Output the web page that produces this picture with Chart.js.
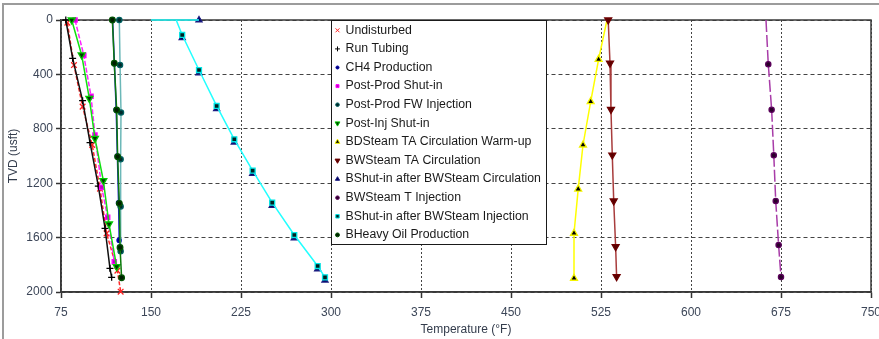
<!DOCTYPE html>
<html>
<head>
<meta charset="utf-8">
<title>Wellbore temperature profiles</title>
<script src="https://cdn.jsdelivr.net/npm/chart.js@4.4.1/dist/chart.umd.min.js"></script>
<style>
  html, body { margin: 0; padding: 0; background: #fff; }
  #wrap { position: relative; width: 879px; height: 339px; }
  #frame { position: absolute; left: 2px; top: 3px; right: 0; bottom: 0; border-left: 2px solid #9c9c9c; border-top: 2px solid #9c9c9c; pointer-events: none; }
  canvas { position: absolute; left: 0; top: 0; }
</style>
</head>
<body>
<div id="wrap"><canvas id="profile" width="879" height="339"></canvas><div id="frame"></div></div>
<script>
// temperature (deg F) vs true vertical depth (usft) for each well stage
var undisturbedT = [80.3, 85.8, 93, 101, 107.5, 113, 122, 124.7];
var undisturbedD = [20, 331, 637, 919, 1240, 1569, 1843, 1998];

var runTubingT = [79, 84.7, 93, 99.2, 106.1, 111.7, 115.8, 117.2];
var runTubingD = [0, 282, 593, 902, 1221, 1532, 1826, 1892];

var ch4ProdT = [118, 119.5, 121, 122, 123, 123.5];
var ch4ProdD = [0, 320, 660, 1000, 1345, 1620];

var postProdShutT = [86.7, 94, 100, 103.3, 108.9, 113.9, 119.4];
var postProdShutD = [0, 260, 560, 846, 1230, 1451, 1777];

var fwInjT = [123.6, 124.2, 125, 124.7, 124.7, 124.7];
var fwInjD = [0, 330, 680, 1024, 1372, 1700];

var postInjShutT = [83.9, 92.2, 98.6, 103.3, 110.3, 115, 121.4];
var postInjShutD = [0, 257, 576, 870, 1181, 1500, 1814];

var warmUpT = [530, 523, 516.4, 510, 506, 502.5, 502.5];
var warmUpD = [0, 289, 600, 919, 1243, 1568, 1899];

var taCircT = [531, 532.5, 533.3, 534.4, 535.6, 537.2, 538];
var taCircD = [0, 318, 657, 993, 1331, 1667, 1887];

var shutAfterCircT = [190, 176, 190, 204.7, 219.4, 234.7, 251, 269.4, 288.9, 295];
var shutAfterCircD = [0, 132, 390, 654, 899, 1130, 1365, 1603, 1831, 1914];

var steamInjT = [662.5, 664.4, 667.2, 669, 670.6, 673, 675];
var steamInjD = [0, 325, 660, 995, 1330, 1655, 1890];

var shutAfterInjT = [150, 190, 171, 176, 190, 204.7, 219.4, 234.7, 251, 269.4, 288.9, 295];
var shutAfterInjD = [0, 0, 0, 110, 368, 632, 877, 1108, 1343, 1581, 1809, 1892];

var heavyOilT = [117.8, 119.4, 121.4, 122.2, 123.6, 124.2, 125.5];
var heavyOilD = [0, 318, 662, 1005, 1348, 1672, 1895];

var xTicks = [75, 750, 75];   // min, max, step
var yTicks = [0, 2000, 400];

function pairs(t, d) {
  var out = [];
  for (var i = 0; i < t.length; i++) out.push({ x: t[i], y: d[i] });
  return out;
}

// marker size per point, with the first few left bare
function sizes(n, r, skip) {
  var out = [];
  for (var i = 0; i < n; i++) out.push(i < skip ? 0 : r);
  return out;
}

function series(label, t, d, line, style) {
  var ds = {
    label: label,
    data: pairs(t, d),
    showLine: true,
    clip: false,
    borderColor: line,
    borderWidth: 1.5,
    pointStyle: style.shape,
    pointRotation: style.rot || 0,
    pointRadius: style.skip ? sizes(t.length, style.r, style.skip) : style.r,
    pointBorderColor: style.edge,
    pointBackgroundColor: style.fill,
    pointBorderWidth: 1.3,
    borderDash: style.dash || []
  };
  return ds;
}

var datasets = [
  series("Undisturbed", undisturbedT, undisturbedD, "#ff2a2a", { shape: "crossRot", r: 4, edge: "#ff2020", fill: "#ff2020", dash: [4, 2] }),
  series("Run Tubing", runTubingT, runTubingD, "#111111", { shape: "cross", r: 3.5, edge: "#000", fill: "#000" }),
  series("CH4 Production", ch4ProdT, ch4ProdD, "#1c1ccc", { shape: "circle", r: 2.2, edge: "#0000b0", fill: "#000070" }),
  series("Post-Prod Shut-in", postProdShutT, postProdShutD, "#ff22ff", { shape: "rect", r: 3, edge: "#ff00ff", fill: "#c000c0", dash: [5, 2] }),
  series("Post-Prod FW Injection", fwInjT, fwInjD, "#6cb8b8", { shape: "circle", r: 2.6, edge: "#006060", fill: "#002a2a" }),
  series("Post-Inj Shut-in", postInjShutT, postInjShutD, "#10e010", { shape: "triangle", rot: 180, r: 4, edge: "#00c800", fill: "#003800" }),
  series("BDSteam TA Circulation Warm-up", warmUpT, warmUpD, "#ffff00", { shape: "triangle", r: 4, edge: "#f4f400", fill: "#000", skip: 1 }),
  series("BWSteam TA Circulation", taCircT, taCircD, "#a83c3c", { shape: "triangle", rot: 180, r: 4, edge: "#6e0000", fill: "#5a0000" }),
  series("BShut-in after BWSteam Circulation", shutAfterCircT, shutAfterCircD, "#00006e", { shape: "triangle", r: 3.5, edge: "#1a1a80", fill: "#00005a" }),
  series("BWSteam T Injection", steamInjT, steamInjD, "#a83ca8", { shape: "circle", r: 2.6, edge: "#5a005a", fill: "#2a002a", dash: [12, 3], skip: 1 }),
  series("BShut-in after BWSteam Injection", shutAfterInjT, shutAfterInjD, "#22ffff", { shape: "rect", r: 3.5, edge: "#00e6e6", fill: "#002020", skip: 3 }),
  series("BHeavy Oil Production", heavyOilT, heavyOilD, "#0c7a0c", { shape: "circle", r: 2.8, edge: "#005000", fill: "#002000" })
];
// the navy markers sit under the cyan line, only the symbols show
datasets[8].showLine = false;
// later stages drawn on top
datasets.forEach(function (ds, i) { ds.order = 20 - i; });

var plotFrame = {
  id: "plotFrame",
  beforeDatasetsDraw: function (chart) {
    var ctx = chart.ctx, area = chart.chartArea;
    ctx.save();
    ctx.setLineDash([]);
    ctx.strokeStyle = "#3a3a3a";
    ctx.lineWidth = 1.5;
    ctx.strokeRect(area.left, area.top, area.right - area.left, area.bottom - area.top);
    ctx.restore();
  }
};

var insetLegend = {
  id: "insetLegend",
  afterDraw: function (chart, args, opts) {
    var ctx = chart.ctx, area = chart.chartArea;
    ctx.save();
    ctx.setLineDash([]);
    ctx.font = opts.font;
    var sets = chart.data.datasets;
    var widest = 0;
    sets.forEach(function (ds) { widest = Math.max(widest, ctx.measureText(ds.label).width); });
    var left = Math.round(chart.scales.x.getPixelForValue(opts.atValue)) + 0.5;
    var top = Math.round(area.top) + 0.5;
    var w = Math.round(widest + opts.textOffset + 6), h = Math.round(sets.length * opts.rowHeight + 1);
    ctx.fillStyle = "#fff";
    ctx.fillRect(left, top, w, h);
    ctx.strokeStyle = "#1a1a1a";
    ctx.lineWidth = 1;
    ctx.strokeRect(left, top, w, h);

    ctx.textBaseline = "middle";
    ctx.textAlign = "left";
    sets.forEach(function (ds, i) {
      var y = top + opts.rowHeight * (i + 0.5) + 0.5;
      var r = Array.isArray(ds.pointRadius) ? ds.pointRadius[ds.pointRadius.length - 1] : ds.pointRadius;
      ctx.fillStyle = ds.pointBackgroundColor;
      ctx.strokeStyle = ds.pointBorderColor;
      ctx.lineWidth = 1;
      Chart.helpers.drawPoint(ctx, { pointStyle: ds.pointStyle, rotation: ds.pointRotation, radius: r * 0.7, borderWidth: 1 }, left + 6, y);
      ctx.fillStyle = "#1a1a1a";
      ctx.fillText(ds.label, left + opts.textOffset, y);
    });
    ctx.restore();
  }
};

var tickFont = { family: "'Liberation Sans', Arial, sans-serif", size: 12 };
function plain(v) { return String(v); }

new Chart(document.getElementById("profile").getContext("2d"), {
  type: "scatter",
  data: { datasets: datasets },
  options: {
    responsive: false,
    animation: false,
    events: [],
    layout: { padding: { top: 20, right: 8, left: 0, bottom: 0 } },
    plugins: {
      legend: { display: false },
      tooltip: { enabled: false },
      insetLegend: { atValue: 300, rowHeight: 18.6, textOffset: 14, font: "12.3px 'Liberation Sans', Arial, sans-serif" }
    },
    scales: {
      x: {
        type: "linear",
        min: xTicks[0], max: xTicks[1],
        ticks: { stepSize: xTicks[2], color: "#3c4658", font: tickFont, padding: 7, maxRotation: 0, callback: plain },
        grid: { color: "#444", lineWidth: 1, tickLength: 6, tickColor: "#333", tickWidth: 1.5, tickBorderDash: [] },
        border: { display: true, color: "#3a3a3a", width: 1.5, dash: [2, 2] },
        title: { display: true, text: "Temperature (°F)", color: "#333c4c", font: tickFont, padding: { top: 2, bottom: 2 } },
        afterFit: function (scale) { scale.height = 47; scale.paddingLeft = 0; scale.paddingRight = 0; }
      },
      y: {
        type: "linear",
        reverse: true,
        min: yTicks[0], max: yTicks[1],
        ticks: { stepSize: yTicks[2], color: "#3c4658", font: tickFont, padding: 3, callback: plain },
        grid: { color: "#444", lineWidth: 1, tickLength: 5, tickColor: "#333", tickWidth: 1.5, tickBorderDash: [] },
        border: { display: true, color: "#3a3a3a", width: 1.5, dash: [4, 3] },
        title: { display: true, text: "TVD (usft)", color: "#333c4c", font: tickFont, padding: { top: 6, bottom: 2 } },
        afterFit: function (scale) { scale.width = 61; scale.paddingTop = 0; scale.paddingBottom = 0; }
      }
    }
  },
  plugins: [plotFrame, insetLegend]
});
</script>
</body>
</html>
